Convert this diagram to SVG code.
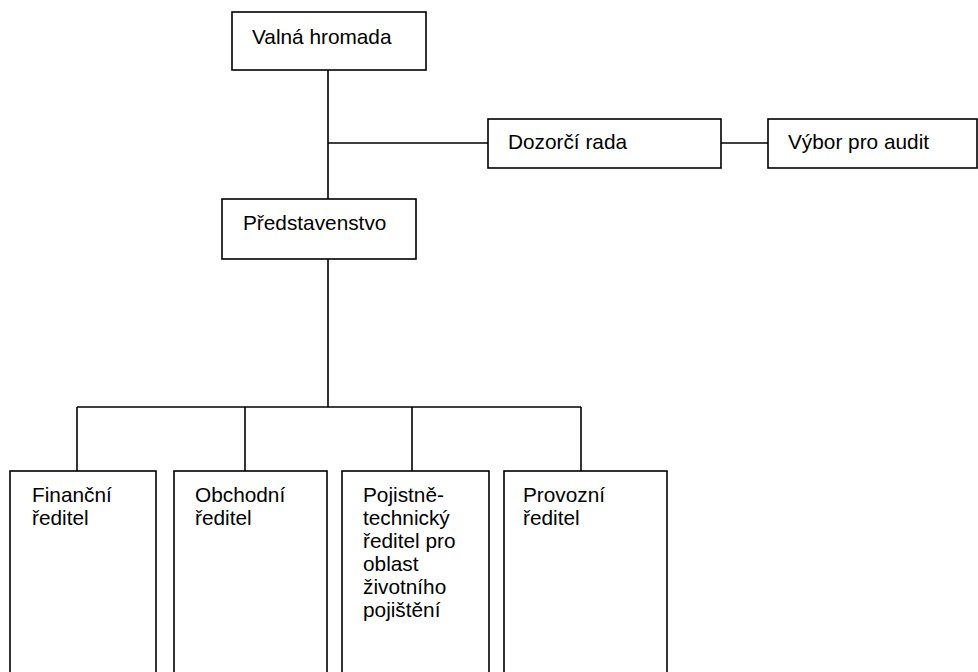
<svg xmlns="http://www.w3.org/2000/svg" width="978" height="672" viewBox="0 0 978 672">
<style>
.box{fill:#fff;stroke:#000;stroke-width:1.6}
.ln{fill:none;stroke:#000;stroke-width:1.6}
text{font-family:"Liberation Sans",Arial,sans-serif;font-size:20.8px;fill:#000}
</style>
<rect width="978" height="672" fill="#fff"/>
<g id="connectors">
<path class="ln" d="M328 70V199M328 143H488M721 143H768M328 259V407M77 407H581M77 407V471M245 407V471M412 407V471M581 407V471"/>
</g>
<g id="valna"><rect class="box" x="232" y="12" width="194" height="58"/><text x="252" y="44">Valná hromada</text></g>
<g id="dozorci"><rect class="box" x="488" y="119" width="233" height="49"/><text x="508" y="149">Dozorčí rada</text></g>
<g id="vybor"><rect class="box" x="768" y="119" width="209" height="49"/><text x="788" y="149">Výbor pro audit</text></g>
<g id="predstavenstvo"><rect class="box" x="222" y="199" width="194" height="60"/><text x="243" y="230">Představenstvo</text></g>
<g id="financni"><rect class="box" x="10" y="471" width="146" height="210"/><text x="32" y="502">Finanční<tspan x="32" dy="23">ředitel</tspan></text></g>
<g id="obchodni"><rect class="box" x="174" y="471" width="153" height="210"/><text x="195" y="502">Obchodní<tspan x="195" dy="23">ředitel</tspan></text></g>
<g id="pojistne"><rect class="box" x="342" y="471" width="147" height="210"/><text x="363" y="502">Pojistně-<tspan x="363" dy="23">technický</tspan><tspan x="363" dy="23">ředitel pro</tspan><tspan x="363" dy="23">oblast</tspan><tspan x="363" dy="23">životního</tspan><tspan x="363" dy="23">pojištění</tspan></text></g>
<g id="provozni"><rect class="box" x="504" y="471" width="163" height="210"/><text x="523" y="502">Provozní<tspan x="523" dy="23">ředitel</tspan></text></g>
</svg>
